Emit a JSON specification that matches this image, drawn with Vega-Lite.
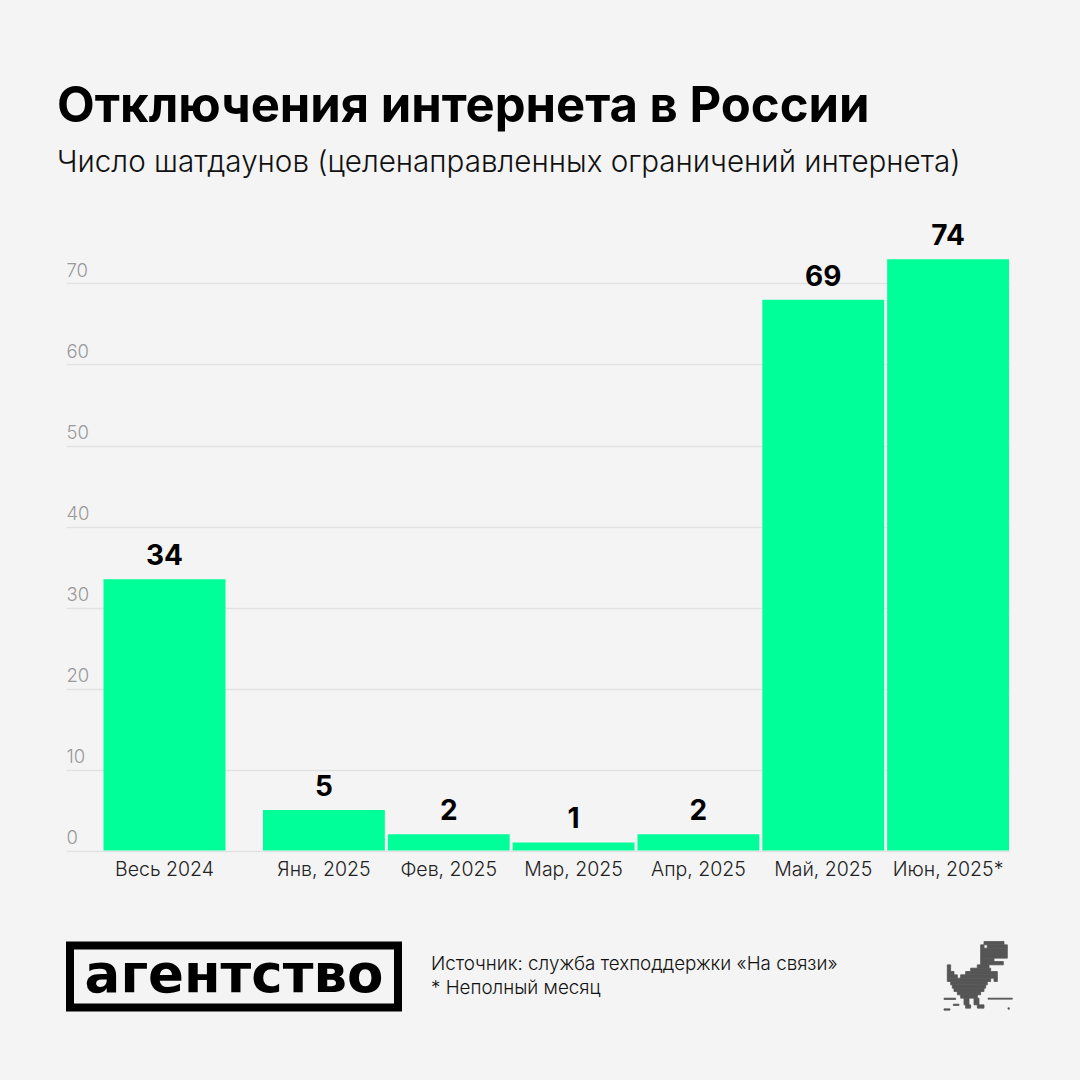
{
  "$schema": "https://vega.github.io/schema/vega-lite/v6.json",
  "description": "Internet shutdowns in Russia, 2024 and first half of 2025",
  "background": "#f4f4f4",
  "padding": {"left": 57, "top": 83, "right": 66.7, "bottom": 69},
  "title": {
    "text": "Отключения интернета в России",
    "subtitle": "Число шатдаунов (целенаправленных ограничений интернета)",
    "anchor": "start",
    "frame": "group",
    "dx": -9,
    "offset": 45.5,
    "font": "Inter",
    "fontSize": 49,
    "fontWeight": 700,
    "color": "#000000",
    "subtitleFont": "Inter",
    "subtitleFontSize": 29.6,
    "subtitleFontWeight": 300,
    "subtitleColor": "#111111",
    "subtitlePadding": 17
  },
  "config": {
    "view": {"stroke": null},
    "font": "Inter",
    "axisX": {
      "title": null,
      "domain": false,
      "ticks": false,
      "tickSize": 0,
      "grid": false,
      "labelAngle": 0,
      "labelFont": "Inter",
      "labelFontSize": 19.5,
      "labelFontWeight": 300,
      "labelColor": "#222222",
      "labelPadding": 19,
      "labelBaseline": "middle"
    },
    "axisY": {
      "title": null,
      "domain": false,
      "ticks": false,
      "tickSize": 0,
      "grid": true,
      "gridColor": "#e2e2e2",
      "gridWidth": 1.5
    }
  },
  "spacing": 61.5,
  "vconcat": [
    {
      "bounds": "flush",
      "spacing": 0,
      "hconcat": [
        {
          "width": 197,
          "height": 607.5,
          "data": {"values": [{"period": "Весь 2024", "height": 33.5, "label": 34}]},
          "encoding": {
            "x": {"field": "period", "type": "nominal", "sort": null, "axis": {}},
            "y": {
              "field": "height",
              "type": "quantitative",
              "scale": {"domain": [0, 75]},
              "axis": {
                "values": [0, 10, 20, 30, 40, 50, 60, 70],
                "labelAlign": "left",
                "labelPadding": 0,
                "labelOffset": -13,
                "labelFont": "Inter",
                "labelFontSize": 18.5,
                "labelFontWeight": 300,
                "labelColor": "#999999"
              }
            }
          },
          "layer": [
            {"mark": {"type": "bar", "width": 122, "color": "#00ff99"}},
            {
              "mark": {"type": "text", "dy": -22, "fontSize": 28, "fontWeight": 700, "font": "Inter", "color": "#000000"},
              "encoding": {"text": {"field": "label", "type": "quantitative"}}
            }
          ]
        },
        {
          "width": 746,
          "height": 607.5,
          "data": {
            "values": [
              {"period": "Янв, 2025", "height": 5, "label": 5},
              {"period": "Фев, 2025", "height": 2, "label": 2},
              {"period": "Мар, 2025", "height": 1, "label": 1},
              {"period": "Апр, 2025", "height": 2, "label": 2},
              {"period": "Май, 2025", "height": 68, "label": 69},
              {"period": "Июн, 2025*", "height": 73, "label": 74}
            ]
          },
          "encoding": {
            "x": {
              "field": "period",
              "type": "nominal",
              "sort": null,
              "scale": {"paddingInner": 0.024, "paddingOuter": 0},
              "axis": {}
            },
            "y": {
              "field": "height",
              "type": "quantitative",
              "scale": {"domain": [0, 75]},
              "axis": {"values": [0, 10, 20, 30, 40, 50, 60, 70], "labels": false}
            }
          },
          "layer": [
            {"mark": {"type": "bar", "color": "#00ff99"}},
            {
              "mark": {"type": "text", "dy": -22, "fontSize": 28, "fontWeight": 700, "font": "Inter", "color": "#000000"},
              "encoding": {"text": {"field": "label", "type": "quantitative"}}
            }
          ]
        }
      ]
    },
    {
      "bounds": "flush",
      "spacing": 29,
      "hconcat": [
        {
          "width": 336,
          "height": 70,
          "view": {"fill": "#000000"},
          "data": {"values": [{"name": "агентство", "x1": 8, "x2": 328, "y1": 8, "y2": 62}]},
          "layer": [
            {
              "mark": {"type": "rect", "color": "#f4f4f4"},
              "encoding": {
                "x": {"field": "x1", "type": "quantitative", "scale": {"domain": [0, 336]}, "axis": null},
                "x2": {"field": "x2"},
                "y": {"field": "y1", "type": "quantitative", "scale": {"domain": [70, 0]}, "axis": null},
                "y2": {"field": "y2"}
              }
            },
            {
              "mark": {"type": "text", "font": "DejaVu Sans", "fontSize": 53, "fontWeight": 700, "color": "#000000", "dy": 0},
              "encoding": {"text": {"field": "name", "type": "nominal"}}
            }
          ]
        },
        {
          "width": 483.3,
          "height": 70,
          "data": {
            "values": [
              {"line": "Источник: служба техподдержки «На связи»"},
              {"line": "* Неполный месяц"}
            ]
          },
          "mark": {"type": "text", "align": "left", "font": "Inter", "fontSize": 18.8, "fontWeight": 300, "color": "#111111"},
          "encoding": {
            "x": {"datum": 0, "type": "quantitative", "scale": {"domain": [0, 1]}, "axis": null},
            "y": {
              "field": "line",
              "type": "nominal",
              "sort": null,
              "scale": {"padding": 0.958},
              "axis": null
            },
            "text": {"field": "line", "type": "nominal"}
          }
        },
        {
          "width": 70,
          "height": 70,
          "data": {
            "values": [
              {"c1": 12, "c2": 18, "r1": 0, "r2": 1},
              {"c1": 11, "c2": 12, "r1": 1, "r2": 2},
              {"c1": 13, "c2": 19, "r1": 1, "r2": 2},
              {"c1": 11, "c2": 19, "r1": 2, "r2": 5},
              {"c1": 11, "c2": 15, "r1": 5, "r2": 6},
              {"c1": 11, "c2": 17.8, "r1": 6, "r2": 7},
              {"c1": 10, "c2": 13.5, "r1": 7, "r2": 8},
              {"c1": 1, "c2": 2, "r1": 7, "r2": 9},
              {"c1": 8, "c2": 14, "r1": 8, "r2": 9},
              {"c1": 1, "c2": 3, "r1": 9, "r2": 10},
              {"c1": 6.5, "c2": 16, "r1": 9, "r2": 10},
              {"c1": 1, "c2": 4, "r1": 10, "r2": 11},
              {"c1": 5, "c2": 16, "r1": 10, "r2": 11},
              {"c1": 1, "c2": 14, "r1": 11, "r2": 12},
              {"c1": 15, "c2": 16, "r1": 11, "r2": 12},
              {"c1": 2, "c2": 13, "r1": 12, "r2": 13},
              {"c1": 2.5, "c2": 12.5, "r1": 13, "r2": 14},
              {"c1": 3, "c2": 12, "r1": 14, "r2": 15},
              {"c1": 4, "c2": 11, "r1": 15, "r2": 16},
              {"c1": 5, "c2": 10, "r1": 16, "r2": 17},
              {"c1": 6, "c2": 7.5, "r1": 17, "r2": 19},
              {"c1": 9, "c2": 10.5, "r1": 17, "r2": 19},
              {"c1": 6.5, "c2": 8, "r1": 19, "r2": 20},
              {"c1": 10, "c2": 12, "r1": 19, "r2": 20},
              {"c1": 0, "c2": 3.5, "r1": 17, "r2": 17.4},
              {"c1": 13.2, "c2": 20.5, "r1": 17, "r2": 17.3},
              {"c1": 2.8, "c2": 4.5, "r1": 18.8, "r2": 19.2},
              {"c1": 0, "c2": 1.8, "r1": 20.2, "r2": 20.6},
              {"c1": 19.2, "c2": 19.6, "r1": 19.9, "r2": 20.3}
            ]
          },
          "mark": {"type": "rect", "color": "#555555", "stroke": "#555555", "strokeWidth": 0.8},
          "encoding": {
            "x": {"field": "c1", "type": "quantitative", "scale": {"domain": [0, 21], "nice": false}, "axis": null},
            "x2": {"field": "c2"},
            "y": {"field": "r1", "type": "quantitative", "scale": {"domain": [21, 0], "nice": false, "zero": false}, "axis": null},
            "y2": {"field": "r2"}
          }
        }
      ]
    }
  ]
}
